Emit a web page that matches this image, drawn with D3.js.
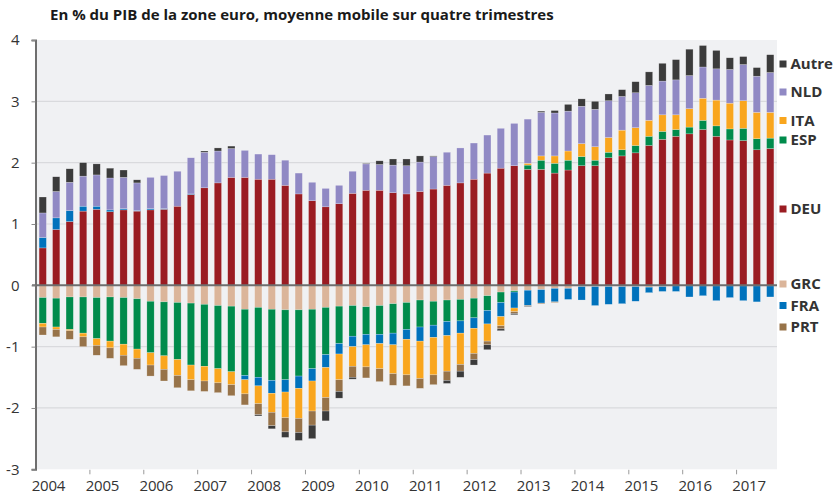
<!DOCTYPE html>
<html>
<head>
<meta charset="utf-8">
<script src="https://cdn.jsdelivr.net/npm/d3@7"></script>
<style>
  html, body { margin: 0; padding: 0; background: #ffffff; }
  svg { display: block; font-family: "Open Sans", "DejaVu Sans", sans-serif; }
</style>
</head>
<body>
<svg id="chart" width="838" height="496"></svg>
<script>
// Quarterly contributions to the euro-area current account, % of euro-area GDP
const quarters = [
  "2004T1","2004T2","2004T3","2004T4","2005T1","2005T2","2005T3","2005T4",
  "2006T1","2006T2","2006T3","2006T4","2007T1","2007T2","2007T3","2007T4",
  "2008T1","2008T2","2008T3","2008T4","2009T1","2009T2","2009T3","2009T4",
  "2010T1","2010T2","2010T3","2010T4","2011T1","2011T2","2011T3","2011T4",
  "2012T1","2012T2","2012T3","2012T4","2013T1","2013T2","2013T3","2013T4",
  "2014T1","2014T2","2014T3","2014T4","2015T1","2015T2","2015T3","2015T4",
  "2016T1","2016T2","2016T3","2016T4","2017T1","2017T2","2017T3"
];
const yearLabels = ["2004","2005","2006","2007","2008","2009","2010","2011","2012","2013","2014","2015","2016","2017"];
const yTicks = [-3, -2, -1, 0, 1, 2, 3, 4];

const DEU = [0.61,0.91,1.04,1.21,1.24,1.20,1.23,1.21,1.23,1.24,1.29,1.48,1.59,1.67,1.76,1.76,
  1.73,1.73,1.63,1.49,1.38,1.28,1.33,1.50,1.55,1.55,1.51,1.49,1.53,1.57,1.63,1.67,
  1.73,1.83,1.91,1.95,1.89,1.89,1.83,1.88,1.95,1.95,2.08,2.11,2.16,2.28,2.38,2.43,
  2.47,2.54,2.43,2.37,2.36,2.21,2.23];
const GRC = [-0.20,-0.21,-0.19,-0.19,-0.20,-0.19,-0.20,-0.22,-0.26,-0.27,-0.28,-0.29,-0.31,-0.33,-0.34,-0.39,
  -0.36,-0.39,-0.40,-0.40,-0.39,-0.36,-0.34,-0.33,-0.35,-0.33,-0.30,-0.28,-0.24,-0.26,-0.24,-0.23,
  -0.21,-0.17,-0.11,-0.09,-0.08,-0.07,-0.05,-0.05,-0.02,-0.02,-0.02,-0.02,-0.02,-0.03,-0.02,-0.01,
  -0.01,-0.01,-0.01,-0.01,-0.01,-0.01,-0.01];
const ESP = [-0.42,-0.47,-0.53,-0.59,-0.67,-0.72,-0.76,-0.82,-0.84,-0.88,-0.93,-1.01,-1.01,-1.03,-1.07,-1.08,
  -1.14,-1.16,-1.14,-1.08,-0.97,-0.77,-0.61,-0.50,-0.45,-0.47,-0.48,-0.44,-0.44,-0.39,-0.35,-0.35,
  -0.32,-0.24,-0.17,-0.02,0.07,0.15,0.16,0.16,0.15,0.09,0.09,0.10,0.12,0.15,0.13,0.11,
  0.11,0.15,0.17,0.18,0.20,0.18,0.17];
const FRA = [0.17,0.19,0.18,0.08,0.05,0.03,0.02,0.01,0.02,0.01,0.00,0.01,0.00,0.00,0.00,-0.07,
  -0.14,-0.21,-0.20,-0.20,-0.20,-0.21,-0.17,-0.17,-0.17,-0.15,-0.19,-0.16,-0.23,-0.20,-0.23,-0.20,
  -0.17,-0.22,-0.23,-0.26,-0.25,-0.22,-0.22,-0.18,-0.22,-0.31,-0.29,-0.28,-0.24,-0.09,-0.08,-0.09,
  -0.18,-0.16,-0.24,-0.19,-0.24,-0.26,-0.18];
const ITA = [-0.06,-0.04,-0.02,-0.06,-0.11,-0.11,-0.18,-0.15,-0.20,-0.22,-0.26,-0.24,-0.24,-0.23,-0.21,-0.23,
  -0.29,-0.31,-0.42,-0.49,-0.49,-0.49,-0.42,-0.32,-0.36,-0.41,-0.47,-0.58,-0.61,-0.61,-0.58,-0.51,
  -0.41,-0.28,-0.15,-0.06,0.03,0.07,0.12,0.15,0.21,0.22,0.24,0.32,0.29,0.26,0.27,0.24,
  0.30,0.36,0.42,0.42,0.45,0.43,0.42];
const PRT = [-0.13,-0.12,-0.14,-0.16,-0.16,-0.17,-0.17,-0.18,-0.18,-0.19,-0.20,-0.18,-0.17,-0.16,-0.18,-0.18,
  -0.18,-0.22,-0.23,-0.23,-0.23,-0.22,-0.19,-0.18,-0.18,-0.21,-0.19,-0.18,-0.16,-0.16,-0.15,-0.11,
  -0.10,-0.06,-0.05,-0.03,-0.01,-0.01,-0.01,0.00,0.00,0.00,0.00,0.00,0.00,0.00,0.00,0.00,
  0.00,0.00,0.00,0.00,0.00,0.00,0.00];
const NLD = [0.40,0.43,0.46,0.49,0.51,0.52,0.51,0.45,0.51,0.54,0.57,0.59,0.58,0.52,0.47,0.44,
  0.41,0.40,0.41,0.34,0.30,0.30,0.30,0.36,0.43,0.42,0.45,0.46,0.48,0.53,0.54,0.57,
  0.59,0.62,0.65,0.69,0.72,0.71,0.70,0.65,0.61,0.61,0.60,0.55,0.57,0.57,0.55,0.57,
  0.54,0.51,0.51,0.55,0.59,0.59,0.65];
const Autre = [0.26,0.24,0.22,0.22,0.18,0.16,0.12,0.05,0.00,0.00,0.00,0.00,0.02,0.05,0.04,0.00,
  -0.02,-0.05,-0.09,-0.13,-0.22,-0.16,-0.11,-0.03,0.01,0.06,0.10,0.11,0.10,0.01,-0.05,-0.10,
  -0.09,-0.08,-0.03,-0.02,-0.01,0.02,0.04,0.11,0.12,0.13,0.11,0.11,0.18,0.22,0.29,0.33,
  0.43,0.35,0.30,0.19,0.13,0.14,0.29];

// Stacking order (diverging: positives stack up from zero, negatives down)
const keys = ["DEU", "GRC", "ESP", "FRA", "ITA", "PRT", "NLD", "Autre"];
const seriesValues = { DEU, GRC, ESP, FRA, ITA, PRT, NLD, Autre };
const colors = {
  DEU: "#9a1c22", GRC: "#dbb59a", ESP: "#008b4c", FRA: "#0072bc",
  ITA: "#f9a61e", PRT: "#977349", NLD: "#9089c4", Autre: "#3b3b3b"
};

// Legend entries, top to bottom
const legendItems = ["Autre", "NLD", "ITA", "ESP", "DEU", "GRC", "FRA", "PRT"];
const legendY = [64, 92, 120.5, 140, 209, 284, 305.5, 327];

const rows = quarters.map((q, i) => {
  const r = { q };
  keys.forEach(k => { r[k] = seriesValues[k][i]; });
  return r;
});

const svg = d3.select("#chart");
const plotLeft = 36, plotRight = 777, plotTop = 40, plotBottom = 469.3;

const x = d3.scaleBand().domain(quarters).range([plotLeft, plotRight]).paddingInner(0.46).paddingOuter(0.23);
const y = d3.scaleLinear().domain([-3, 4]).range([plotBottom, plotTop]);
const yearX = d3.scaleLinear().domain([2004, 2004 + quarters.length / 4]).range([plotLeft, plotRight]);

// Plot background
svg.append("rect")
  .attr("x", plotLeft).attr("y", plotTop)
  .attr("width", plotRight - plotLeft).attr("height", plotBottom - plotTop)
  .attr("fill", "#f0f1f3");

// Horizontal grid lines
svg.append("g").selectAll("line")
  .data(yTicks.filter(t => t !== 0 && t !== 4 && t !== -3))
  .join("line")
  .attr("x1", plotLeft).attr("x2", plotRight)
  .attr("y1", d => y(d)).attr("y2", d => y(d))
  .attr("stroke", "#d9dadd").attr("stroke-width", 1.2);

// Stacked bars
const stacked = d3.stack().keys(keys).offset(d3.stackOffsetDiverging)(rows);
svg.append("g").selectAll("g")
  .data(stacked)
  .join("g")
  .attr("fill", d => colors[d.key])
  .selectAll("rect")
  .data(d => d.filter(s => Math.abs(s[1] - s[0]) > 1e-9))
  .join("rect")
  .attr("x", d => x(d.data.q))
  .attr("width", x.bandwidth())
  .attr("y", d => y(Math.max(d[0], d[1])))
  .attr("height", d => Math.abs(y(d[0]) - y(d[1])))
  .attr("stroke", "#ffffff")
  .attr("stroke-opacity", 0.45)
  .attr("stroke-width", 0.5);

// Zero line
svg.append("line")
  .attr("x1", plotLeft - 4).attr("x2", plotRight)
  .attr("y1", y(0)).attr("y2", y(0))
  .attr("stroke", "#6e6e6e").attr("stroke-width", 2);

// Y axis
const yAxis = d3.axisLeft(y).tickValues(yTicks).tickSize(4).tickPadding(12).tickFormat(d3.format("d"));
const gy = svg.append("g").attr("transform", `translate(${plotLeft - 0.5},0)`).call(yAxis);
gy.select(".domain").attr("stroke", "#6e6e6e").attr("stroke-width", 2);
gy.selectAll(".tick line").attr("stroke", "#8a8a8a");
gy.selectAll(".tick text")
  .attr("fill", "#333").attr("font-size", 15)
  .attr("font-family", "'Open Sans', sans-serif")
  .text(d => d < 0 ? "-" + Math.abs(d) : d);

// X axis: ticks at year boundaries, labels just after
const gx = svg.append("g");
gx.selectAll("line")
  .data(yearLabels.slice(1))
  .join("line")
  .attr("x1", d => yearX(+d)).attr("x2", d => yearX(+d))
  .attr("y1", plotBottom + 0.5).attr("y2", plotBottom + 5)
  .attr("stroke", "#9a9a9a").attr("stroke-width", 1);
gx.selectAll("text")
  .data(yearLabels)
  .join("text")
  .attr("x", d => yearX(+d) + 12.5)
  .attr("y", 491)
  .attr("text-anchor", "middle")
  .attr("fill", "#333")
  .attr("font-size", 15)
  .attr("letter-spacing", -0.2)
  .text(d => d);

// Title
svg.append("text")
  .attr("x", 50).attr("y", 20)
  .attr("font-size", 15).attr("font-weight", 700)
  .attr("fill", "#1a1a1a")
  .text("En % du PIB de la zone euro, moyenne mobile sur quatre trimestres");

// Legend
const lg = svg.append("g").selectAll("g")
  .data(legendItems)
  .join("g")
  .attr("transform", (d, i) => `translate(779.5,${legendY[i]})`);
lg.append("rect")
  .attr("x", 0).attr("y", -3.5).attr("width", 7).attr("height", 7)
  .attr("fill", d => colors[d]);
lg.append("text")
  .attr("x", 11).attr("y", 0).attr("dy", "0.36em")
  .attr("font-size", 15).attr("font-weight", 700)
  .attr("fill", "#333")
  .text(d => d);
</script>
</body>
</html>
